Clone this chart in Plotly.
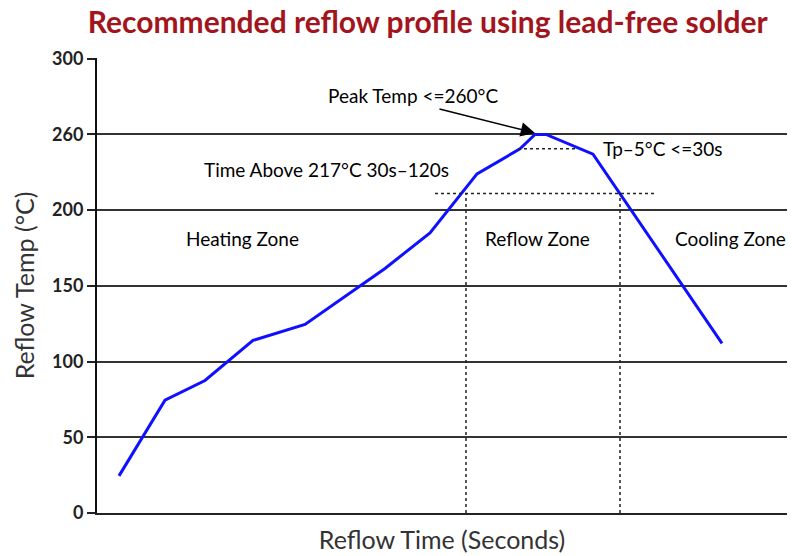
import plotly.graph_objects as go

# reflow curve (time in s, temperature in plotted units)
time_s = [11, 34, 54, 78, 104, 144, 166.5, 190, 211.5, 219, 224.5, 248, 312.5]
temp_c = [24.5, 74.5, 87.5, 114, 124.5, 161.5, 185, 224, 240.5, 250, 250, 237, 112]

# y axis ticks (gridline labelled 260 sits where 250 would be)
tick_vals = [0, 50, 100, 150, 200, 250, 300]
tick_text = ["0", "50", "100", "150", "200", "260", "300"]

# reference lines
liquidus_temp = 211          # "Time Above 217°C" dashed level
liquidus_span = [169, 279]
reflow_start, reflow_end = 184.5, 261.5
peak_band_temp = 240.5       # "Tp-5°C" dashed level
peak_band_span = [210.5, 240.5]

# text labels: (text, x, y)
labels = [
    ("Peak Temp <=260°C", 158, 275.5),
    ("Tp–5°C <=30s", 283, 241),
    ("Time Above 217°C 30s–120s", 114.5, 227),
    ("Heating Zone", 72.5, 181),
    ("Reflow Zone", 220, 181),
    ("Cooling Zone", 316.5, 181),
]
arrow_tail = (170.5, 267)
arrow_head = (219, 251)

FONT = "Lato, Open Sans, sans-serif"

fig = go.Figure()
fig.add_trace(go.Scatter(x=time_s, y=temp_c, mode="lines",
                         line=dict(color="#1010ff", width=3),
                         showlegend=False, hoverinfo="skip"))

dash = dict(color="#222222", width=1.5, dash="dot")
fig.add_shape(type="line", x0=liquidus_span[0], x1=liquidus_span[1],
              y0=liquidus_temp, y1=liquidus_temp, line=dash)
fig.add_shape(type="line", x0=peak_band_span[0], x1=peak_band_span[1],
              y0=peak_band_temp, y1=peak_band_temp, line=dash)
for xv in [reflow_start, reflow_end]:
    fig.add_shape(type="line", x0=xv, x1=xv, y0=0, y1=liquidus_temp, line=dash)

for txt, xv, yv in labels:
    fig.add_annotation(x=xv, y=yv, text=txt, showarrow=False,
                       font=dict(family=FONT, size=19, color="#000000"))

fig.add_annotation(x=arrow_head[0], y=arrow_head[1], ax=arrow_tail[0], ay=arrow_tail[1],
                   axref="x", ayref="y", text="", showarrow=True,
                   arrowhead=2, arrowsize=1.9, arrowwidth=1.5, arrowcolor="#000000")

fig.update_layout(
    width=792, height=556,
    margin=dict(l=97, r=5, t=58, b=43, autoexpand=False),
    paper_bgcolor="white", plot_bgcolor="white",
    title=dict(text="<b>Recommended reflow profile using lead-free solder</b>",
               x=0.54, xanchor="center", y=0.96, yanchor="middle",
               font=dict(family=FONT, size=30, color="#a3151d")),
    xaxis=dict(range=[0, 345], showgrid=False, zeroline=False, automargin=False,
               showticklabels=False, ticks="", showline=True,
               linecolor="#222222", linewidth=2,
               title=dict(text="Reflow Time (Seconds)", standoff=17,
                          font=dict(family=FONT, size=25, color="#333333"))),
    yaxis=dict(range=[0, 300.5], tickvals=tick_vals, ticktext=tick_text,
               showgrid=True, gridcolor="#333333", gridwidth=2, zeroline=False,
               automargin=False,
               showline=True, linecolor="#111111", linewidth=2,
               ticks="outside", ticklen=8, tickwidth=2, tickcolor="#222222",
               tickfont=dict(family=FONT, size=18, color="#222222", weight="bold"),
               title=dict(text="Reflow Temp (°C)", standoff=10,
                          font=dict(family=FONT, size=25, color="#333333"))),
)

# the page body has a default margin; drop it so the figure sits at the corner
fig.write_html("out.html", config={"displayModeBar": False},
               post_script="document.body.style.margin='0';")
